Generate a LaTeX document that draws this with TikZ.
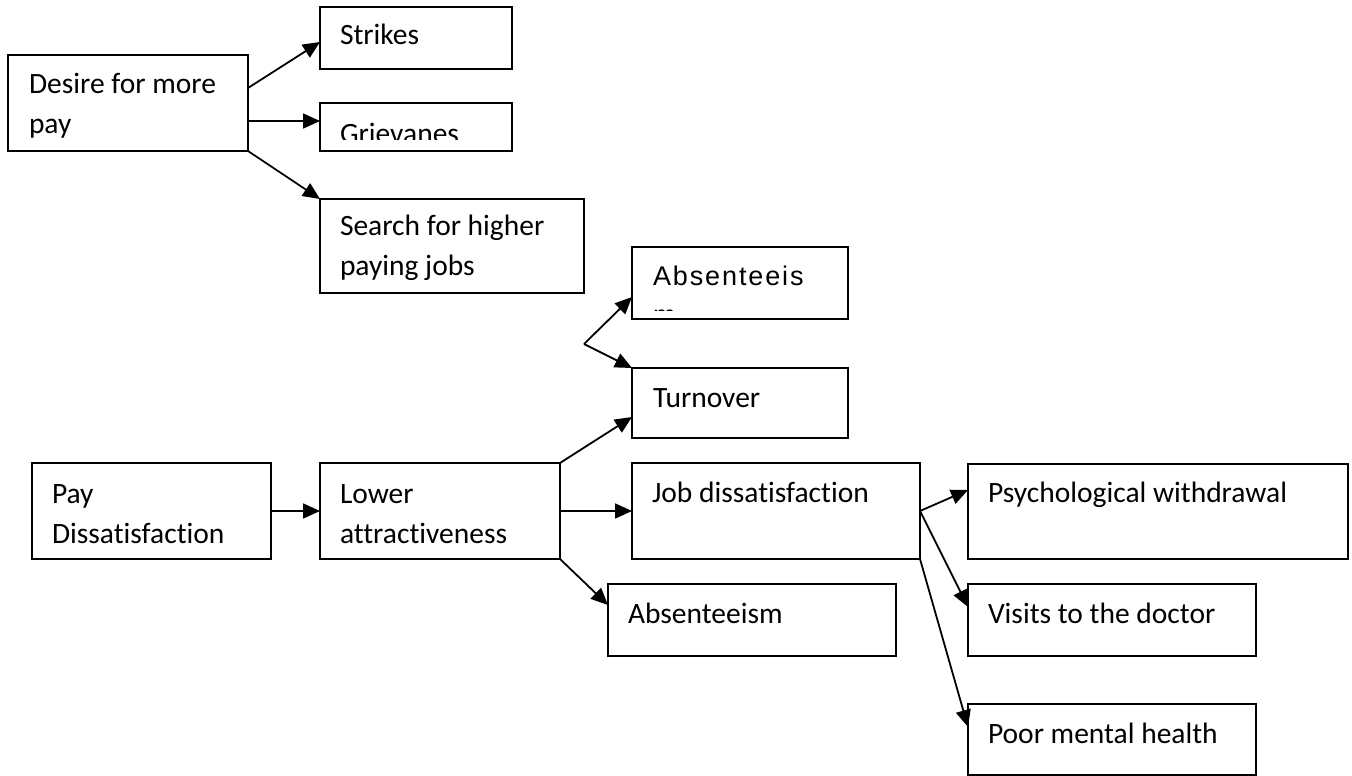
\documentclass[tikz,border=0pt]{standalone}
\usepackage{fontspec}
\setmainfont[Ligatures=NoCommon]{Carlito}
\newfontfamily\arialfont[LetterSpace=7]{Liberation Sans}
\usetikzlibrary{arrows.meta}
\begin{document}
\begin{tikzpicture}[x=1pt,y=-1pt,
  box/.style={draw,line width=1.8pt,anchor=north west,inner sep=0pt,outer sep=0pt},
  txt/.style={anchor=base west,inner sep=0pt,outer sep=0pt,font=\fontsize{29.5}{34}\selectfont},
  atxt/.style={anchor=base west,inner sep=0pt,outer sep=0pt,font=\arialfont\fontsize{27}{30}\selectfont},
  conn/.style={line width=1.8pt,-{Triangle[length=17pt,width=15pt]}}]
\useasboundingbox (0,0) rectangle (1352,776);
% boxes
\node[box,minimum width=240pt,minimum height=96pt] (desire) at (8,55) {};
\node[box,minimum width=192pt,minimum height=62pt] (strikes) at (320,7) {};
\node[box,minimum width=192pt,minimum height=48pt] (griev) at (320,103) {};
\node[box,minimum width=264pt,minimum height=94pt] (search) at (320,199) {};
\node[box,minimum width=216pt,minimum height=72pt] (absA) at (632,247) {};
\node[box,minimum width=216pt,minimum height=70pt] (turn) at (632,368) {};
\node[box,minimum width=239pt,minimum height=96pt] (pay) at (32,463) {};
\node[box,minimum width=240pt,minimum height=96pt] (lower) at (320,463) {};
\node[box,minimum width=288pt,minimum height=96pt] (job) at (632,463) {};
\node[box,minimum width=288pt,minimum height=72pt] (abs) at (608,584) {};
\node[box,minimum width=380pt,minimum height=95pt] (psych) at (968,464) {};
\node[box,minimum width=288pt,minimum height=72pt] (visits) at (968,584) {};
\node[box,minimum width=288pt,minimum height=71pt] (poor) at (968,704) {};
% texts
\node[txt] (desire-t1) at (29,93) {Desire for more};
\node[txt] (desire-t2) at (29,133) {pay};
\node[txt] (strikes-t) at (340,45) {Strikes};
\begin{scope}
  \clip (320,100) rectangle (512,139.5);
  \node[txt] (griev-t) at (340,143) {Grievanes};
\end{scope}
\node[txt] (search-t1) at (340,235) {Search for higher};
\begin{scope}
  \clip (320,240) rectangle (584,281);
  \node[txt] (search-t2) at (340,275) {paying jobs};
\end{scope}
\node[atxt] (absA-t1) at (653,285) {Absenteeis};
\begin{scope}
  \clip (632,300) rectangle (848,310.5);
  \node[atxt] (absA-t2) at (653,324) {m};
\end{scope}
\node[txt] (turn-t) at (653,407) {Turnover};
\node[txt] (pay-t1) at (52,503) {Pay};
\node[txt] (pay-t2) at (52,543) {Dissatisfaction};
\node[txt] (lower-t1) at (340,503) {Lower};
\node[txt] (lower-t2) at (340,543) {attractiveness};
\node[txt] (job-t) at (652,502) {Job dissatisfaction};
\node[txt] (abs-t) at (628,623) {Absenteeism};
\node[txt] (psych-t) at (988,502) {Psychological withdrawal};
\node[txt] (visits-t) at (988,623) {Visits to the doctor};
\node[txt] (poor-t) at (988,743) {Poor mental health};
% connectors
\coordinate (jA) at (584,344);
\draw[conn] ([yshift=-33pt]desire.north east) -- ([yshift=-35pt]strikes.north west);
\draw[conn] ([yshift=-66pt]desire.north east) -- ([yshift=-18pt]griev.north west);
\draw[conn] (desire.south east) -- (search.north west);
\draw[conn] (jA) -- ([yshift=-50pt]absA.north west);
\draw[conn] (jA) -- (turn.north west);
\draw[conn] (pay.east) -- (lower.west);
\draw[conn] (lower.north east) -- ([yshift=-49pt]turn.north west);
\draw[conn] (lower.east) -- (job.west);
\draw[conn] (lower.south east) -- ([yshift=-21pt]abs.north west);
\draw[conn] (job.east) -- ([yshift=-26pt]psych.north west);
\draw[conn] (job.east) -- ([yshift=-23pt]visits.north west);
\draw[conn] (job.south east) -- ([yshift=-23pt]poor.north west);
\end{tikzpicture}
\end{document}
